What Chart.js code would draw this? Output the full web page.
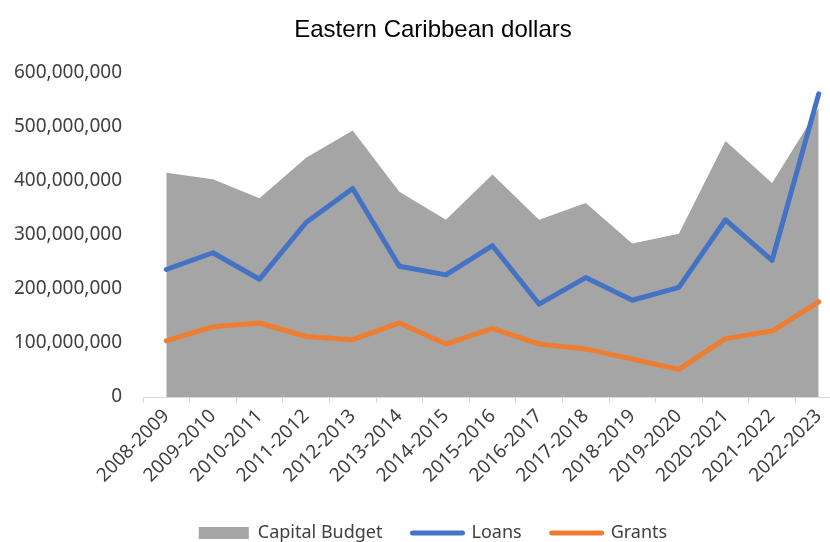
<!DOCTYPE html>
<html>
<head>
<meta charset="utf-8">
<script src="https://cdn.jsdelivr.net/npm/chart.js@4"></script>
<style>
  html, body { margin: 0; padding: 0; background: #fff; overflow: hidden; }
  canvas { display: block; }
</style>
</head>
<body>
<canvas id="chart" width="866" height="542"></canvas>
<script>
const years = ['2008-2009', '2009-2010', '2010-2011', '2011-2012', '2012-2013', '2013-2014', '2014-2015',
  '2015-2016', '2016-2017', '2017-2018', '2018-2019', '2019-2020', '2020-2021', '2021-2022', '2022-2023']

const capitalBudget = [415e6, 403e6, 368e6, 443e6, 493e6, 380e6, 328e6, 412e6, 328e6, 359e6, 284e6, 302e6, 474e6, 396e6, 535e6]
const loans = [236e6, 267e6, 218e6, 323e6, 386e6, 242e6, 226e6, 280e6, 172e6, 221e6, 179e6, 203e6, 328e6, 253e6, 561e6]
const grants = [104e6, 130e6, 137e6, 112e6, 106e6, 137e6, 98e6, 127e6, 98e6, 89e6, 70e6, 51e6, 108e6, 122e6, 176e6]

const yMax = 600e6
const yStep = 100e6

const GRAY = '#a5a5a5'
const BLUE = '#4472c4'
const ORANGE = '#ed7d31'
const TEXT = '#404040'

const ctx = document.getElementById('chart').getContext('2d')

new Chart(ctx, {
  type: 'line',
  data: {
    labels: years,
    datasets: [
      {
        label: 'Capital Budget',
        data: capitalBudget,
        fill: 'origin',
        backgroundColor: GRAY,
        borderColor: GRAY,
        borderWidth: 0,
        pointRadius: 0,
        tension: 0,
        order: 3
      },
      {
        label: 'Loans',
        data: loans,
        borderColor: BLUE,
        backgroundColor: BLUE,
        borderWidth: 5,
        borderCapStyle: 'round',
        borderJoinStyle: 'round',
        pointRadius: 0,
        fill: false,
        tension: 0,
        order: 1
      },
      {
        label: 'Grants',
        data: grants,
        borderColor: ORANGE,
        backgroundColor: ORANGE,
        borderWidth: 5,
        borderCapStyle: 'round',
        borderJoinStyle: 'round',
        pointRadius: 0,
        fill: false,
        tension: 0,
        order: 2
      }
    ]
  },
  options: {
    responsive: false,
    animation: false,
    // legend sits low, close to the bottom edge
    layout: { padding: { top: 0, left: 0, right: 0, bottom: -10 } },
    plugins: {
      title: {
        display: true,
        text: 'Eastern Caribbean dollars',
        color: '#000',
        font: { family: 'Liberation Sans', size: 24, weight: 'normal' },
        padding: { top: 16, bottom: 28 }
      },
      legend: {
        position: 'bottom',
        labels: {
          color: TEXT,
          font: { family: 'Noto Sans', size: 18 },
          usePointStyle: true,
          pointStyleWidth: 50,
          boxHeight: 12,
          padding: 30,
          generateLabels(chart) {
            return chart.data.datasets.map((ds, i) => ({
              text: ds.label,
              datasetIndex: i,
              fillStyle: ds.borderColor,
              strokeStyle: ds.borderColor,
              lineWidth: i === 0 ? 0 : 5,
              lineCap: 'round',
              pointStyle: i === 0 ? 'rect' : 'line',
              fontColor: TEXT,
              hidden: false
            }))
          }
        }
      },
      tooltip: { enabled: false }
    },
    scales: {
      x: {
        offset: true,
        grid: {
          offset: true,
          drawOnChartArea: false,
          color: '#d9d9d9',
          tickLength: 6
        },
        border: { color: '#d9d9d9' },
        ticks: {
          color: TEXT,
          font: { family: 'Noto Sans', size: 19 },
          minRotation: 45,
          maxRotation: 45,
          autoSkip: false,
          padding: 2
        },
        afterFit(scale) { scale.height = 97 }
      },
      y: {
        min: 0,
        max: yMax,
        grid: { display: false, drawTicks: false },
        border: { display: false },
        ticks: {
          stepSize: yStep,
          color: TEXT,
          font: { family: 'Noto Sans', size: 19 },
          padding: 21,
          callback: v => v.toLocaleString('en-US')
        },
        afterFit(scale) { scale.width = 143 }
      },
      // empty right-hand strip so the plot runs to the same edge as the axis line
      yPad: {
        position: 'right',
        grid: { display: false, drawTicks: false },
        border: { display: false },
        ticks: { display: false },
        afterFit(scale) { scale.width = 24 }
      }
    }
  }
})
</script>
</body>
</html>
